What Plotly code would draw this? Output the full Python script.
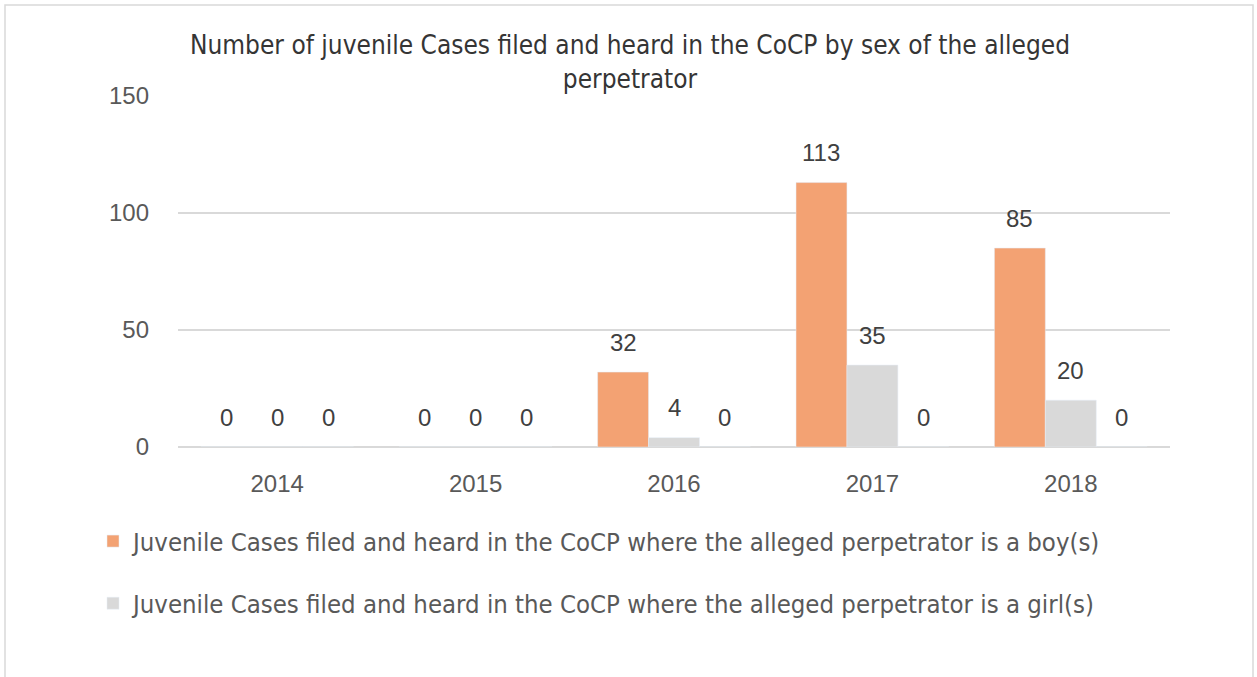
import plotly.graph_objects as go

years = ["2014", "2015", "2016", "2017", "2018"]
boys = [0, 0, 32, 113, 85]
girls = [0, 0, 4, 35, 20]
other = [0, 0, 0, 0, 0]
boy_name = "Juvenile Cases filed and heard in the CoCP where the alleged perpetrator is a boy(s)"
girl_name = "Juvenile Cases filed and heard in the CoCP where the alleged perpetrator is a girl(s)"
title_text = "Number of juvenile Cases filed and heard in the CoCP by sex of the alleged<br>perpetrator"
y_ticks = [0, 50, 100, 150]

TXT_FONT = "Liberation Sans Narrow, DejaVu Sans Condensed, sans-serif"
NUM_FONT = "Liberation Sans, Arial, sans-serif"
W, H = 1257, 677
L, R, T, B = 178, 87, 96, 230
plot_w = W - L - R
plot_h = H - T - B
bargap = 0.23
bar_w = plot_w / len(years) * (1 - bargap) / 3

fig = go.Figure()
fig.add_trace(go.Bar(x=years, y=boys, name=boy_name, marker_color="#F3A273",
                     legendgroup="a", hoverinfo="y"))
fig.add_trace(go.Bar(x=years, y=girls, name=girl_name, marker_color="#D9D9D9",
                     legendgroup="b", hoverinfo="y"))
fig.add_trace(go.Bar(x=years, y=other, name="other", marker_color="#A5A5A5",
                     showlegend=False, hoverinfo="y"))

annotations = []
for j, series in enumerate([boys, girls, other]):
    for i, v in enumerate(series):
        annotations.append(dict(x=i, y=v, xref="x", yref="y", text=str(v),
                                showarrow=False, xshift=(j - 1) * bar_w, yshift=30,
                                yanchor="middle",
                                font=dict(family=NUM_FONT, size=24, color="#404040")))

def px_x(p):
    return (p - L) / plot_w

def px_y(p):
    return (H - B - p) / plot_h

shapes = [dict(type="rect", xref="paper", yref="paper",
               x0=px_x(5), x1=px_x(1253), y0=px_y(720), y1=px_y(5),
               line=dict(color="#D9D9D9", width=1.5), layer="below")]

fig.update_layout(
    width=W, height=H,
    margin=dict(l=L, r=R, t=T, b=B),
    paper_bgcolor="white", plot_bgcolor="white",
    barmode="group", bargap=bargap, bargroupgap=0,
    title=dict(text=title_text, x=630 / W, xanchor="center", xref="container",
               y=1 - 54 / H, yanchor="top", yref="container",
               font=dict(family=TXT_FONT, size=26, color="#353535")),
    font=dict(family=TXT_FONT, color="#595959"),
    xaxis=dict(type="category", range=[-0.5, 4.5], showgrid=False, showline=False, ticks="",
               tickfont=dict(family=NUM_FONT, size=24, color="#595959"),
               ticklabelstandoff=20),
    yaxis=dict(range=[0, 150], tickvals=y_ticks, showgrid=True,
               gridcolor="#D9D9D9", gridwidth=1.5, zeroline=True,
               zerolinecolor="#D9D9D9", zerolinewidth=1.5, showline=False,
               tickfont=dict(family=NUM_FONT, size=24, color="#595959"),
               ticklabelstandoff=28),
    legend=dict(x=px_x(93), xanchor="left", y=px_y(518), yanchor="top",
                orientation="v", traceorder="grouped", tracegroupgap=26,
                font=dict(family=TXT_FONT, size=25.5, color="#595959"),
                bgcolor="rgba(0,0,0,0)"),
    annotations=annotations,
    shapes=shapes,
    showlegend=True,
)

fig.write_html("out.html", config={"displayModeBar": False},
               post_script="document.body.style.margin='0px';")
